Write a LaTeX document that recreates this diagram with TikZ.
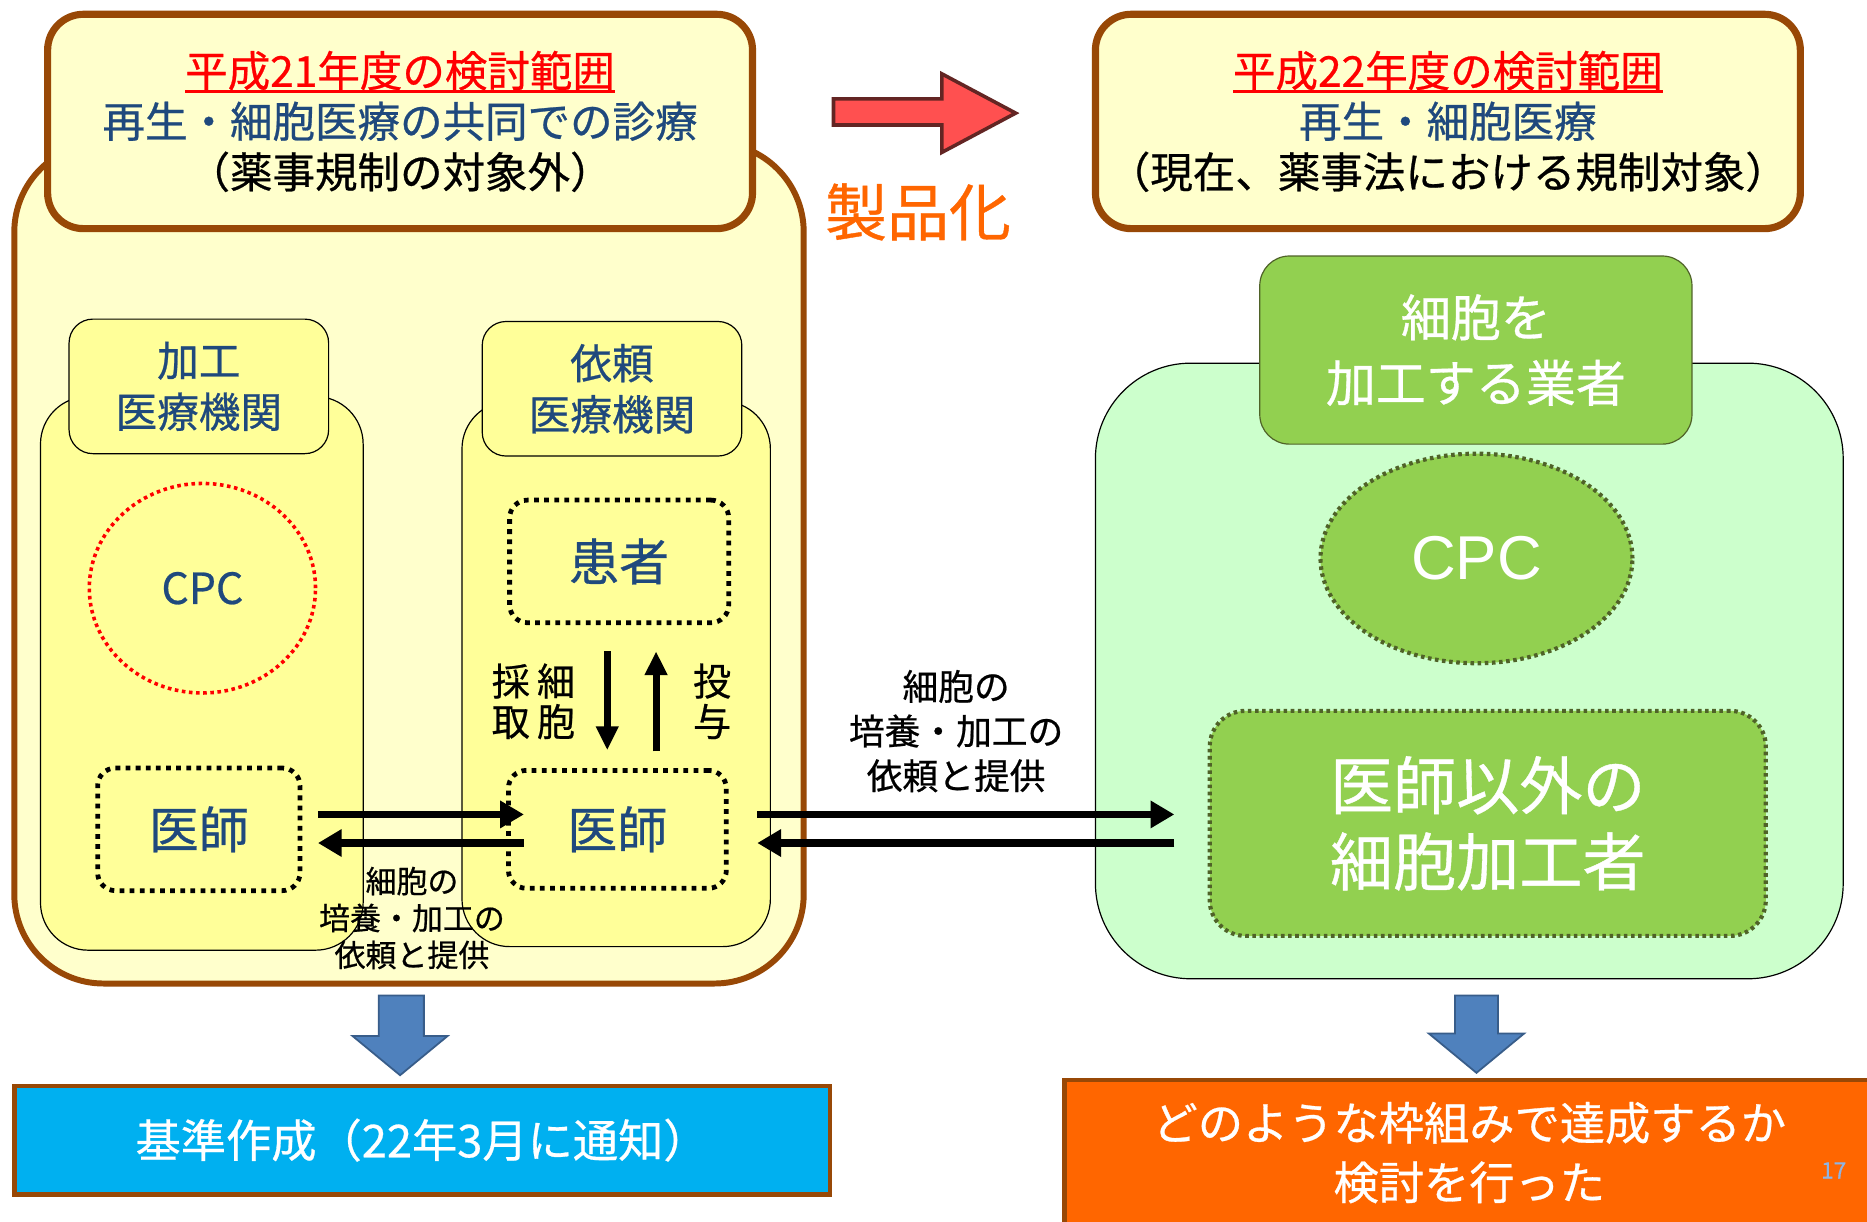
\documentclass[tikz,border=0pt]{standalone}
\usepackage{fontspec}
\setmainfont[FakeBold=0.6]{Noto Sans CJK JP}
\newfontfamily\arialfont{Liberation Sans}
\usetikzlibrary{shapes.geometric,arrows.meta,calc}
\definecolor{brownB}{HTML}{984806}
\definecolor{ylight}{HTML}{FFFFCC}
\definecolor{yel}{HTML}{FFFF99}
\definecolor{tblue}{HTML}{1F497D}
\definecolor{rarrow}{HTML}{FF5050}
\definecolor{rarrowD}{HTML}{632523}
\definecolor{orangeT}{HTML}{FF6600}
\definecolor{glight}{HTML}{CCFFCC}
\definecolor{gmid}{HTML}{92D050}
\definecolor{gdark}{HTML}{4F6228}
\definecolor{barrow}{HTML}{4F81BD}
\definecolor{barrowD}{HTML}{385D8A}
\definecolor{cyanbox}{HTML}{00B0F0}
\definecolor{pgnum}{HTML}{8EB4E3}
\newsavebox\ulbox
\newcommand\thickul[1]{\sbox\ulbox{#1}\usebox\ulbox\llap{\rule[-5pt]{\wd\ulbox}{2.5pt}}}
\tikzset{
  fs/.style 2 args={font=\fontsize{#1}{#2}\selectfont},
  bigbox/.style={draw=brownB, line width=5pt, fill=ylight, rounded corners=75pt, inner sep=0pt},
  titlebox/.style={draw=brownB, line width=6pt, fill=ylight, rounded corners=30pt, align=center, inner sep=0pt},
  panel/.style={draw=black, line width=1pt, fill=yel, rounded corners=40pt, inner sep=0pt},
  paneltab/.style={draw=black, line width=1pt, fill=yel, rounded corners=20pt, align=center, inner sep=0pt, text=tblue, fs={35}{43}},
  dotbox/.style={draw=black, line width=4pt, dash pattern=on 4pt off 4.5pt, rounded corners=15pt, inner sep=0pt, text=tblue, fs={42}{50}},
  harrow/.style={line width=6pt, -{Triangle[length=20pt,width=22pt]}},
  lbl/.style={align=center, inner sep=0pt},
  gpanel/.style={draw=black, line width=1pt, fill=glight, rounded corners=80pt, inner sep=0pt},
  gtab/.style={draw=gdark, line width=1pt, fill=gmid, rounded corners=25pt, align=center, inner sep=0pt, text=white, fs={42}{55}},
  gdots/.style={draw=gdark, line width=3.5pt, dash pattern=on 3pt off 3pt, fill=gmid, text=white, inner sep=0pt},
  bluearrow/.style={draw=barrowD, line width=1.5pt, fill=barrow},
}
\begin{document}
\begin{tikzpicture}[x=1pt,y=-1pt]
\useasboundingbox (0,0) rectangle (1568,1026);
\fill[white] (0,0) rectangle (1568,1026);

% ---------- left side ----------
\node[bigbox, minimum width=663pt, minimum height=706pt] (leftbig) at (343.5,473) {};
\node[titlebox, minimum width=592pt, minimum height=180pt, fs={35.7}{42.5}] (lefttitle) at (336,102)
  {\textcolor{red}{\thickul{平成21年度の検討範囲}}\\\textcolor{tblue}{再生・細胞医療の共同での診療}\\（薬事規制の対象外）};

\node[panel, minimum width=271pt, minimum height=465pt] (p1) at (169.5,565.5) {};
\node[paneltab, minimum width=218pt, minimum height=113pt] (p1tab) at (167,324.5) {加工\\医療機関};
\node[panel, minimum width=259pt, minimum height=458pt] (p2) at (517.5,566) {};
\node[paneltab, minimum width=218pt, minimum height=113pt] (p2tab) at (514,326.5) {依頼\\医療機関};

\node[ellipse, draw=red, line width=3pt, dash pattern=on 3pt off 3pt, minimum width=190pt, minimum height=176pt,
      text=tblue, fs={36}{40}, inner sep=0pt] (cpc1) at (170,494) {CPC};
\node[dotbox, minimum width=170pt, minimum height=103pt] (doc1) at (167,696.5) {医師};
\node[dotbox, minimum width=184pt, minimum height=103pt] (patient) at (520,471.5) {患者};
\node[dotbox, minimum width=183pt, minimum height=99pt] (doc2) at (518.5,696.5) {医師};

\draw[line width=6pt, -{Triangle[length=20pt,width=18pt]}] ($(patient.south)+(-10,22)$) -- ($(doc2.north)+(-8.5,-15)$);
\draw[line width=6pt, -{Triangle[length=20pt,width=18pt]}] ($(doc2.north)+(32.5,-14)$) -- ($(patient.south)+(31,22)$);
\node[lbl, fs={32}{34}] (saishu) at (448,589) {採\hspace{6pt}細\\取\hspace{6pt}胞};
\node[lbl, fs={32}{34}] (toyo) at (598,589) {投\\与};

\draw[harrow] ($(doc1.east)+(13,-12.5)$) -- ($(doc2.west)+(15,-12.5)$);
\draw[harrow] ($(doc2.west)+(15,11.5)$) -- ($(doc1.east)+(13,11.5)$);
\node[lbl, fs={26}{31}] (lbl1) at (346,771) {細胞の\\培養・加工の\\依頼と提供};

% ---------- middle ----------
\draw[draw=rarrowD, line width=3pt, fill=rarrow] (700,83) -- (791,83) -- (791,62) -- (853,95) -- (791,128) -- (791,105) -- (700,105) -- cycle;
\node[lbl, text=orangeT, fs={52}{56}] (seihin) at (771,178) {製品化};

% ---------- right side ----------
\node[titlebox, minimum width=592pt, minimum height=180pt, fs={35.7}{42.5}] (righttitle) at (1216,102)
  {\textcolor{red}{\thickul{平成22年度の検討範囲}}\\\textcolor{tblue}{再生・細胞医療}\\（現在、薬事法における規制対象）};

\node[gpanel, minimum width=628pt, minimum height=517pt] (gp) at (1234,563.5) {};
\node[gtab, minimum width=363pt, minimum height=158pt] (gtab) at (1239.5,294) {細胞を\\加工する業者};
\node[gdots, ellipse, minimum width=262pt, minimum height=176pt, font=\arialfont\fontsize{52}{56}\selectfont] (cpc2) at (1240,469) {CPC};
\node[gdots, rounded corners=30pt, minimum width=467pt, minimum height=189pt, align=center, fs={53}{64}] (worker) at (1249.5,691.5) {医師以外の\\細胞加工者};

\draw[harrow] ($(doc2.east)+(24,-12.5)$) -- ($(worker.west)+(-28,-7.5)$);
\draw[harrow] ($(worker.west)+(-28,16.5)$) -- ($(doc2.east)+(24,11.5)$);
\node[lbl, fs={30}{37.5}] (lbl2) at (803,614) {細胞の\\培養・加工の\\依頼と提供};

% ---------- bottom ----------
\draw[bluearrow] (318,836) -- (356,836) -- (356,870) -- (376,870) -- (336,903) -- (296,870) -- (318,870) -- cycle;
\draw[bluearrow] (1222,836) -- (1258,836) -- (1258,868) -- (1280,868) -- (1240,901) -- (1200,868) -- (1222,868) -- cycle;

\node[draw=brownB, line width=4pt, fill=cyanbox, minimum width=685pt, minimum height=91pt, inner sep=0pt,
      text=white, fs={38}{44}] (kijun) at (354.5,957.5) {基準作成（22年3月に通知）};
\node[draw=brownB, line width=4pt, fill=orangeT, minimum width=690pt, minimum height=130pt, inner sep=0pt, anchor=north west] (kento) at (892,905) {};
\node[lbl, text=white, fs={38}{50}] (kentotext) at (1234,968) {どのような枠組みで達成するか\\検討を行った};
\node[lbl, text=pgnum, fs={19}{20}] (pg) at (1540,983) {17};
\end{tikzpicture}
\end{document}
